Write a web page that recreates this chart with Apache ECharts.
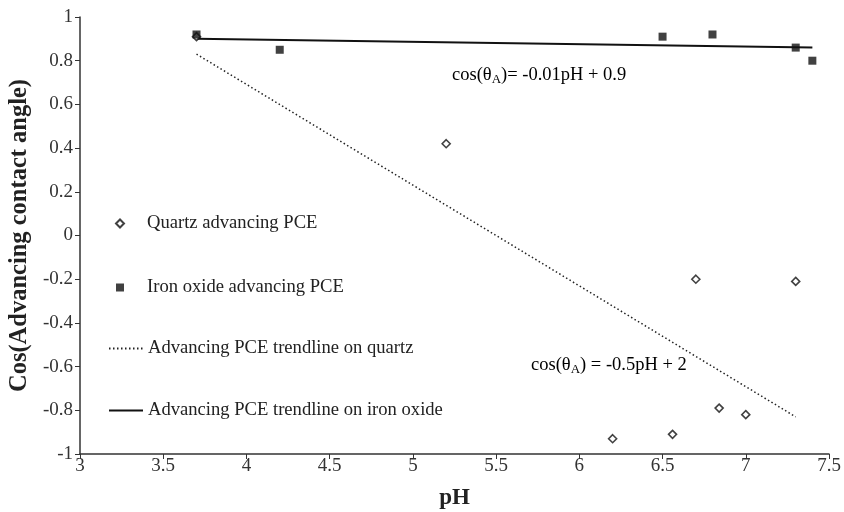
<!DOCTYPE html>
<html lang="en">

<head>
    <meta charset="UTF-8">
    <title>Cos(Advancing contact angle) vs pH</title>
    <script src="https://cdn.jsdelivr.net/npm/echarts@6/dist/echarts.min.js"></script>
</head>

<body style="margin:0">
    <div id="main" style="width:844px;height:512px"></div>
    <script>
        var quartzPH = [3.7, 5.2, 6.2, 6.56, 6.7, 6.84, 7.0, 7.3];
        var quartzCos = [0.91, 0.42, -0.93, -0.91, -0.2, -0.79, -0.82, -0.21];
        var ironPH = [3.7, 4.2, 6.5, 6.8, 7.3, 7.4];
        var ironCos = [0.92, 0.85, 0.91, 0.92, 0.86, 0.80];
        // trendline end points
        var quartzTrendPH = [3.7, 7.3];
        var quartzTrendCos = [0.83, -0.83];
        var ironTrendPH = [3.7, 7.4];
        var ironTrendCos = [0.90, 0.86];

        function pairs(xs, ys) {
            var out = [];
            for (var i = 0; i < xs.length; i++) {
                out.push([xs[i], ys[i]]);
            }
            return out;
        }

        var font = '"Liberation Serif", "DejaVu Serif", serif';
        var richEq = {
            a: { fontFamily: font, fontSize: 18.5, color: '#222' },
            s: { fontFamily: font, fontSize: 13, color: '#222', padding: [8, 0, 0, 0] }
        };
        var myChart = echarts.init(document.getElementById('main'));
        var option = {
            animation: false,
            textStyle: { fontFamily: font },
            grid: { left: 80, right: 15, top: 17, bottom: 58, outerBoundsMode: 'none', containLabel: false },
            legend: [
                {
                    // markers
                    orient: 'vertical',
                    left: 110,
                    top: 209,
                    itemGap: 45,
                    itemWidth: 34,
                    itemHeight: 8,
                    symbolKeepAspect: true,
                    textStyle: { fontFamily: font, fontSize: 18.6, color: '#222', lineHeight: 18, padding: [0, 0, 0, 5] },
                    data: [
                        { name: 'Quartz advancing PCE', icon: 'path://M0,4L4,0L8,4L4,8Z' },
                        { name: 'Iron oxide advancing PCE', icon: 'path://M0,0H8V8H0Z' }
                    ]
                },
                {
                    // trendlines
                    orient: 'vertical',
                    left: 103,
                    top: 334,
                    itemGap: 43,
                    itemWidth: 34,
                    itemHeight: 14,
                    textStyle: { fontFamily: font, fontSize: 18.6, color: '#222', lineHeight: 18 },
                    data: [
                        { name: 'Advancing PCE trendline on quartz', itemStyle: { opacity: 0 } },
                        { name: 'Advancing PCE trendline on iron oxide', itemStyle: { opacity: 0 } }
                    ]
                }
            ],
            xAxis: {
                type: 'value',
                min: 3,
                max: 7.5,
                interval: 0.5,
                name: 'pH',
                nameLocation: 'middle',
                nameGap: 33,
                nameTextStyle: { fontFamily: font, fontSize: 23, fontWeight: 'bold', color: '#222' },
                splitLine: { show: false },
                axisLine: { onZero: false, lineStyle: { color: '#333', width: 1.5 } },
                axisTick: { lineStyle: { color: '#333' }, length: 5 },
                axisLabel: { fontFamily: font, fontSize: 19, color: '#333', margin: 3 }
            },
            yAxis: {
                type: 'value',
                min: -1,
                max: 1,
                interval: 0.2,
                name: 'Cos(Advancing contact angle)',
                nameLocation: 'middle',
                nameGap: 46,
                nameTextStyle: { fontFamily: font, fontSize: 24.5, fontWeight: 'bold', color: '#222' },
                splitLine: { show: false },
                axisLine: { show: true, onZero: false, lineStyle: { color: '#333', width: 1.5 } },
                axisTick: { show: true, lineStyle: { color: '#333' }, length: 5 },
                axisLabel: {
                    fontFamily: font, fontSize: 19, color: '#333', margin: 7,
                    formatter: function (v) { return String(Math.round(v * 10) / 10); }
                }
            },
            series: [
                {
                    name: 'Quartz advancing PCE',
                    type: 'scatter',
                    symbol: 'diamond',
                    symbolSize: 8,
                    itemStyle: { color: '#fff', borderColor: '#111', borderWidth: 1.6 },
                    data: pairs(quartzPH, quartzCos),
                    z: 3
                },
                {
                    name: 'Iron oxide advancing PCE',
                    type: 'scatter',
                    symbol: 'rect',
                    symbolSize: 8,
                    itemStyle: { color: '#111' },
                    data: pairs(ironPH, ironCos),
                    z: 4
                },
                {
                    name: 'Advancing PCE trendline on quartz',
                    type: 'line',
                    showSymbol: false,
                    symbol: 'none',
                    lineStyle: { color: '#222', width: 1.5, type: [1.5, 2.5] },
                    itemStyle: { color: '#222' },
                    data: pairs(quartzTrendPH, quartzTrendCos),
                    z: 2
                },
                {
                    name: 'Advancing PCE trendline on iron oxide',
                    type: 'line',
                    showSymbol: false,
                    symbol: 'none',
                    lineStyle: { color: '#111', width: 2 },
                    itemStyle: { color: '#111' },
                    data: pairs(ironTrendPH, ironTrendCos),
                    z: 2
                }
            ],
            graphic: [
                {
                    type: 'text',
                    left: 452,
                    top: 66,
                    style: { text: '{a|cos(θ}{s|A}{a|)= -0.01pH + 0.9}', rich: richEq }
                },
                {
                    type: 'text',
                    left: 531,
                    top: 356,
                    style: { text: '{a|cos(θ}{s|A}{a|) = -0.5pH + 2}', rich: richEq }
                }
            ]
        };
        myChart.setOption(option);
    </script>
</body>

</html>
